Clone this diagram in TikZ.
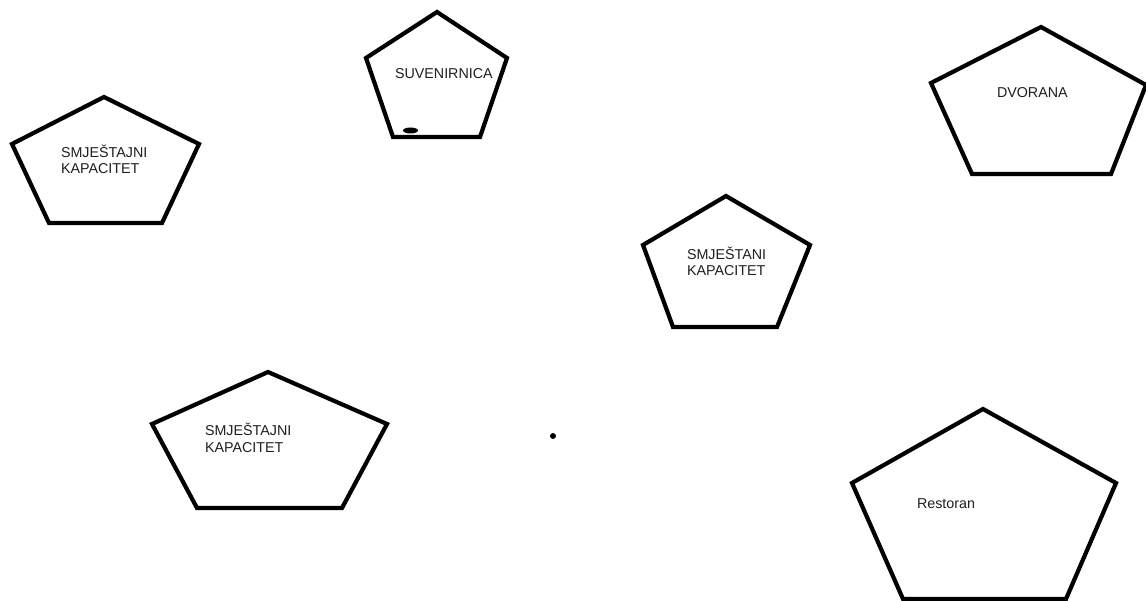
\documentclass[tikz,border=0pt]{standalone}
\usepackage{fontspec}
\setmainfont{Liberation Sans}
\begin{document}
\begin{tikzpicture}[x=1pt,y=-1pt,
  penta/.style={draw=black,line width=4.2pt,line join=miter},
  lbl/.style={inner sep=0pt,outer sep=0pt,font=\fontsize{14.3}{16.7}\selectfont,text=black!88,align=left,anchor=base west}]
\useasboundingbox[fill=white] (0,0) rectangle (1146,601);
% pentagons
\draw[penta] (437,12) -- (507,58) -- (480,137) -- (393,137) -- (366,58) -- cycle;
\draw[penta] (104,97) -- (199,144) -- (162,223) -- (49,223) -- (12,144) -- cycle;
\draw[penta] (1041,27) -- (1146,85) -- (1111,174) -- (972,174) -- (931,83) -- cycle;
\draw[penta] (726,196) -- (810,245) -- (777,327) -- (673,327) -- (643,245) -- cycle;
\draw[penta] (268,372) -- (387,424) -- (342,508) -- (197,508) -- (152,424) -- cycle;
\draw[penta] (983,409) -- (1116,483) -- (1066,599) -- (903,599) -- (852,483) -- cycle;
% marks
\fill[black] (410.5,130.5) ellipse [x radius=7.5pt, y radius=3pt];
\fill[black] (553,436) circle [radius=3pt];
% labels (multi-line: base = last line)
\node[lbl] (suv) at (395,79) {SUVENIRNICA};
\node[lbl] (smj1) at (61,174) {SMJEŠTAJNI\\KAPACITET};
\node[lbl] (dvo) at (997,98) {DVORANA};
\node[lbl] (smj2) at (687,276) {SMJEŠTANI\\KAPACITET};
\node[lbl] (smj3) at (205,452) {SMJEŠTAJNI\\KAPACITET};
\node[lbl] (res) at (917,508) {Restoran};
\end{tikzpicture}
\end{document}
